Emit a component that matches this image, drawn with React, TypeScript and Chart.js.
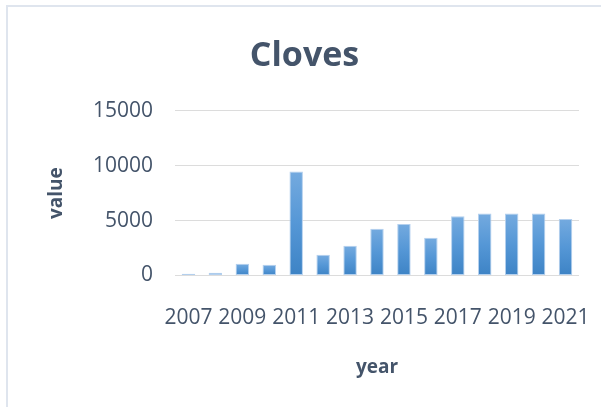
import React, { useEffect, useRef } from "react";
import { Chart, registerables } from "chart.js";

Chart.register(...registerables);

const years = ["2007", "2008", "2009", "2010", "2011", "2012", "2013", "2014", "2015", "2016", "2017", "2018", "2019", "2020", "2021"];
const values = [150, 250, 1060, 970, 9480, 1880, 2700, 4250, 4700, 3430, 5390, 5640, 5640, 5640, 5150];
const yTicks = [0, 5000, 10000, 15000];
const chartTitle = "Cloves";
const xTitle = "year";
const yTitle = "value";

const TEXT = "#44546a";
const FONT = "'Open Sans', sans-serif";

export default function App() {
  const ref = useRef<HTMLCanvasElement | null>(null);

  useEffect(() => {
    if (!ref.current) return;
    const chart = new Chart(ref.current, {
      type: "bar",
      data: {
        labels: years,
        datasets: [
          {
            data: values,
            backgroundColor: (ctx: any) => {
              const chart = ctx.chart;
              const ys = chart.scales?.y;
              if (!ys || ctx.parsed == null) return "#5b9bd5";
              const top = ys.getPixelForValue(ctx.parsed.y);
              const bottom = ys.getPixelForValue(0);
              if (!isFinite(top) || !isFinite(bottom) || top === bottom) return "#5b9bd5";
              const g = chart.ctx.createLinearGradient(0, top, 0, bottom);
              g.addColorStop(0, "#74aadf");
              g.addColorStop(0.5, "#5597d6");
              g.addColorStop(1, "#3d83c5");
              return g;
            },
            borderColor: "#b4d0ee",
            borderWidth: 1,
            borderSkipped: false,
            barPercentage: 0.5,
            categoryPercentage: 1,
          },
        ],
      },
      options: {
        responsive: false,
        animation: false,
        layout: { padding: { left: 8, right: 0, top: 0, bottom: 0 } },
        plugins: {
          legend: { display: false },
          tooltip: { enabled: false },
          title: {
            display: true,
            text: chartTitle,
            color: TEXT,
            font: { family: FONT, size: 34, weight: "bold" },
            padding: { top: 36, bottom: 34 },
          },
        },
        scales: {
          x: {
            grid: { display: false, drawTicks: false },
            border: { display: false },
            ticks: {
              autoSkip: false,
              maxRotation: 0,
              minRotation: 0,
              padding: 30,
              color: TEXT,
              font: { family: FONT, size: 21 },
              callback: (_v: any, i: number) => (i % 2 === 0 ? years[i] : ""),
            },
            title: {
              display: true,
              text: xTitle,
              color: TEXT,
              font: { family: FONT, size: 19, weight: "bold" },
              padding: { top: 0, bottom: 28 },
            },
            afterFit: (s: any) => {
              s.height = 131.5;
              s.paddingLeft = 0;
              s.paddingRight = 22;
            },
          },
          y: {
            min: 0,
            max: 15000,
            afterBuildTicks: (s: any) => {
              s.ticks = yTicks.map((v) => ({ value: v }));
            },
            grid: { color: "#dcdcdc", lineWidth: 1, drawTicks: false },
            border: { display: false },
            ticks: {
              padding: 22,
              color: TEXT,
              font: { family: FONT, size: 21 },
              callback: (v: any) => String(v),
            },
            title: {
              display: true,
              text: yTitle,
              color: TEXT,
              font: { family: FONT, size: 19, weight: "bold" },
              padding: { top: 37, bottom: 0 },
            },
            afterFit: (s: any) => {
              s.width = 167;
              s.paddingTop = 0;
              s.paddingBottom = 0;
            },
          },
        },
      },
    });
    return () => chart.destroy();
  }, []);

  return (
    <div style={{ position: "absolute", left: 0, top: 0, width: 601, height: 407, overflow: "hidden", background: "#fff" }}>
      <canvas ref={ref} width={601} height={407} style={{ position: "absolute", left: 0, top: 0 }} />
      <div
        style={{
          position: "absolute",
          left: 6,
          top: 5,
          width: 620,
          height: 420,
          borderLeft: "2px solid #dfe5ee",
          borderTop: "2px solid #dfe5ee",
          pointerEvents: "none",
        }}
      />
    </div>
  );
}
